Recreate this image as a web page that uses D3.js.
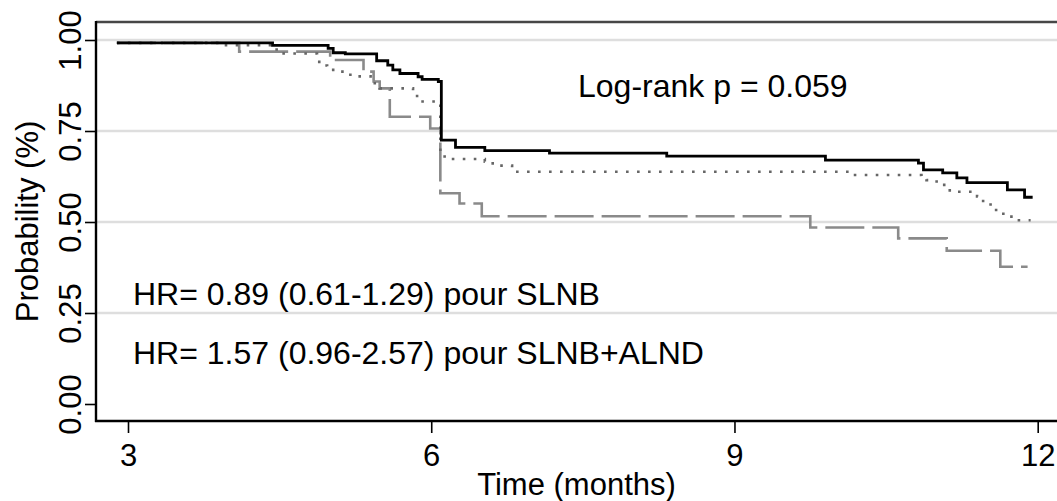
<!DOCTYPE html>
<html lang="en">
<head>
    <meta charset="UTF-8">
    <title>Kaplan-Meier</title>
    <script src="https://cdn.jsdelivr.net/npm/d3@7"></script>
    <style>
        html, body {
            margin: 0;
            background: #fff;
        }
        text {
            font-family: "Liberation Sans", Arial, sans-serif;
            fill: #000;
        }
    </style>
</head>
<body>
<div class="chart"></div>

<script>

    // step change points (time in months, survival probability)
    var slnbTime = [2.89, 4.43, 4.98, 5.03, 5.15, 5.46, 5.57, 5.62, 5.69, 5.87, 5.91, 6.07, 6.10, 6.24, 6.53, 7.17, 8.33, 9.90, 10.82, 10.87, 11.06, 11.20, 11.30, 11.70, 11.87, 11.95];
    var slnbSurv = [0.992, 0.985, 0.977, 0.965, 0.962, 0.943, 0.931, 0.918, 0.908, 0.899, 0.892, 0.886, 0.725, 0.705, 0.696, 0.689, 0.681, 0.670, 0.662, 0.643, 0.635, 0.621, 0.608, 0.588, 0.568, 0.568];

    var refTime = [2.89, 3.94, 4.43, 4.50, 4.87, 4.92, 4.97, 5.03, 5.20, 5.40, 5.49, 5.82, 5.86, 6.09, 6.20, 6.53, 6.58, 6.68, 6.80, 10.16, 10.85, 10.90, 11.00, 11.13, 11.40, 11.46, 11.56, 11.66, 11.74, 11.93];
    var refSurv = [0.992, 0.986, 0.974, 0.963, 0.940, 0.930, 0.922, 0.913, 0.900, 0.881, 0.867, 0.853, 0.831, 0.680, 0.673, 0.666, 0.661, 0.655, 0.638, 0.629, 0.622, 0.615, 0.602, 0.583, 0.570, 0.548, 0.533, 0.519, 0.505, 0.505];

    var alndTime = [2.89, 4.10, 5.00, 5.33, 5.43, 5.49, 5.59, 5.99, 6.09, 6.28, 6.50, 9.75, 10.62, 11.10, 11.63, 11.90];
    var alndSurv = [0.992, 0.968, 0.945, 0.913, 0.886, 0.867, 0.789, 0.757, 0.579, 0.551, 0.516, 0.485, 0.455, 0.421, 0.377, 0.377];

    var xTicks = [3, 6, 9, 12];
    var yTicks = [0, 0.25, 0.5, 0.75, 1];
    var gridTicks = [0.25, 0.5, 0.75, 1];

    var annotations = ["Log-rank p = 0.059", "HR= 0.89 (0.61-1.29) pour SLNB", "HR= 1.57 (0.96-2.57) pour SLNB+ALND"];

    var width = 1057, height = 501;
    var plot = {left: 96, top: 22, right: 1057, bottom: 421};

    var x = d3.scaleLinear().domain([3, 12]).range([128, 1037.7]);
    var y = d3.scaleLinear().domain([0, 1]).range([404, 40]);

    var svg = d3.select('.chart').append('svg')
        .attr('width', width).attr('height', height);

    // gridlines
    svg.append('g').selectAll('line').data(gridTicks).enter().append('line')
        .attr('x1', plot.left).attr('x2', plot.right)
        .attr('y1', function (d) { return y(d); })
        .attr('y2', function (d) { return y(d); })
        .attr('stroke', '#dedede').attr('stroke-width', 2.6);

    // frame
    svg.append('line').attr('x1', plot.left).attr('x2', plot.right)
        .attr('y1', plot.top).attr('y2', plot.top)
        .attr('stroke', '#474747').attr('stroke-width', 2.4);

    var yAxis = d3.axisLeft(y).tickValues(yTicks).tickSize(11).tickPadding(0).tickFormat(d3.format('.2f'));
    var xAxis = d3.axisBottom(x).tickValues(xTicks).tickSize(12).tickFormat(d3.format('d'));

    var gy = svg.append('g').attr('transform', 'translate(' + plot.left + ',0)').call(yAxis);
    gy.select('.domain').remove();
    gy.selectAll('.tick line').attr('stroke', '#000').attr('stroke-width', 1.6);
    gy.selectAll('.tick text')
        .attr('x', null).attr('dy', null)
        .attr('transform', 'translate(-15,0) rotate(-90)')
        .attr('text-anchor', 'middle')
        .style('font-size', '31px');

    var gx = svg.append('g').attr('transform', 'translate(0,' + plot.bottom + ')').call(xAxis);
    gx.select('.domain').remove();
    gx.selectAll('.tick line').attr('stroke', '#000').attr('stroke-width', 1.6);
    gx.selectAll('.tick text')
        .attr('y', 45).attr('dy', null)
        .style('font-size', '31px');

    svg.selectAll('.tick text').attr('font-family', null).attr('fill', '#000');

    svg.append('line').attr('x1', plot.left).attr('x2', plot.left)
        .attr('y1', plot.top - 1).attr('y2', plot.bottom + 1)
        .attr('stroke', '#000').attr('stroke-width', 2.4);
    svg.append('line').attr('x1', plot.left - 1).attr('x2', plot.right)
        .attr('y1', plot.bottom).attr('y2', plot.bottom)
        .attr('stroke', '#000').attr('stroke-width', 2.4);

    // survival curves
    var line = d3.line()
        .x(function (d) { return x(d[0]); })
        .y(function (d) { return y(d[1]); })
        .curve(d3.curveStepAfter);

    function pairs(t, s) {
        return t.map(function (d, i) { return [d, s[i]]; });
    }

    svg.append('path').attr('d', line(pairs(alndTime, alndSurv)))
        .attr('fill', 'none').attr('stroke', '#8a8a8a').attr('stroke-width', 2.6)
        .attr('stroke-dasharray', '39,8');
    svg.append('path').attr('d', line(pairs(refTime, refSurv)))
        .attr('fill', 'none').attr('stroke', '#666').attr('stroke-width', 2.6)
        .attr('stroke-dasharray', '2.6,8.4');
    svg.append('path').attr('d', line(pairs(slnbTime, slnbSurv)))
        .attr('fill', 'none').attr('stroke', '#000').attr('stroke-width', 2.8);

    // annotations
    svg.append('text').attr('x', 578).attr('y', 97).style('font-size', '32px').text(annotations[0]);
    svg.append('text').attr('x', 133).attr('y', 305).style('font-size', '32px').text(annotations[1]);
    svg.append('text').attr('x', 133).attr('y', 364).style('font-size', '32px').text(annotations[2]);

    // axis titles
    svg.append('text')
        .attr('transform', 'translate(38,' + ((plot.top + plot.bottom) / 2) + ') rotate(-90)')
        .attr('text-anchor', 'middle')
        .style('font-size', '31px')
        .text('Probability (%)');
    svg.append('text')
        .attr('x', (plot.left + plot.right) / 2).attr('y', 495)
        .attr('text-anchor', 'middle')
        .style('font-size', '31px')
        .text('Time (months)');

</script>
</body>
</html>
